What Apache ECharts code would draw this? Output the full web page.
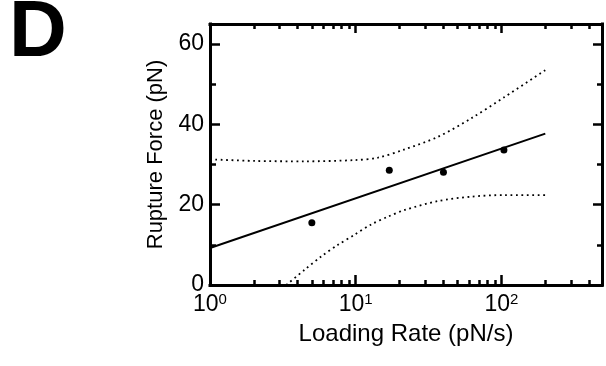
<!DOCTYPE html>
<html>
<head>
<meta charset="utf-8">
<script src="https://cdn.jsdelivr.net/npm/echarts@6/dist/echarts.min.js"></script>
<style>
  html, body { margin: 0; padding: 0; background: #fff; }
  #chart { width: 606px; height: 366px; }
</style>
</head>
<body>
<div id="chart"></div>
<script>
// ---- data ----
const pointX = [5, 17, 40, 104];
const pointY = [15.5, 28.6, 28.1, 33.6];

const fitX = [1, 200];
const fitY = [9.2, 37.7];

const upperX = [1, 2, 4.5, 9.8, 14.2, 21.7, 36.7, 62, 105, 200];
const upperY = [31.3, 30.9, 30.8, 31.1, 31.7, 33.8, 36.9, 41.5, 46.8, 53.5];

const lowerX = [3.34, 4.46, 5.8, 7.55, 9.8, 12.8, 16.6, 21.7, 36.7, 62, 105, 200];
const lowerY = [0, 3.8, 7.1, 10.0, 12.5, 15.1, 17.0, 18.7, 20.9, 22.0, 22.4, 22.4];

const xMajorTicks = [1, 10, 100];
const xMinorTicks = [2, 3, 4, 5, 6, 7, 8, 9, 20, 30, 40, 50, 60, 70, 80, 90, 200, 300, 400];
const yMajorTicks = [0, 20, 40, 60];
const yMinorTicks = [10, 30, 50];

const X_MIN = 1, X_MAX = 490;
const Y_MIN = 0, Y_MAX = 65;

const FONT = 'Liberation Sans, Arial, sans-serif';

function zip(xs, ys) { return xs.map((x, i) => [x, ys[i]]); }

const axisLineStyle = { color: '#000', width: 3, cap: 'square' };

function xAx(position, ticks, len, withLine, labels) {
  const ax = {
    type: 'log', logBase: 10, min: X_MIN, max: X_MAX, position: position,
    axisLine: { show: withLine, onZero: false, lineStyle: axisLineStyle },
    axisTick: { show: true, inside: true, length: len, customValues: ticks,
                lineStyle: { color: '#000', width: 2.5 } },
    splitLine: { show: false },
    minorTick: { show: false },
    axisLabel: { show: false }
  };
  if (labels) {
    ax.name = 'Loading Rate (pN/s)';
    ax.nameLocation = 'middle';
    ax.nameGap = 36;
    ax.nameTextStyle = { fontSize: 24, color: '#000', fontFamily: FONT };
    ax.axisLabel = {
      show: true, margin: 7, color: '#000',
      formatter: function (v) {
        const e = Math.log10(v);
        const r = Math.round(e);
        if (Math.abs(e - r) > 1e-6) return '';
        return '{b|10}{s|' + r + '}';
      },
      rich: {
        b: { fontSize: 23, fontFamily: FONT, color: '#000', lineHeight: 26 },
        s: { fontSize: 15, fontFamily: FONT, color: '#000', lineHeight: 16, padding: [0, 0, 10, 0] }
      }
    };
  }
  return ax;
}

function yAx(position, ticks, len, withLine, labels) {
  const ax = {
    type: 'value', min: Y_MIN, max: Y_MAX, interval: 20, position: position,
    axisLine: { show: withLine, onZero: false, lineStyle: axisLineStyle },
    axisTick: { show: true, inside: true, length: len, customValues: ticks,
                lineStyle: { color: '#000', width: 2.5 } },
    splitLine: { show: false },
    minorTick: { show: false },
    axisLabel: { show: false }
  };
  if (labels) {
    ax.name = 'Rupture Force (pN)';
    ax.nameLocation = 'middle';
    ax.nameGap = 43;
    ax.nameTextStyle = { fontSize: 22, color: '#000', fontFamily: FONT };
    ax.axisLabel = {
      show: true, margin: 6, fontSize: 23, color: '#000', fontFamily: FONT,
      formatter: function (v) { return v % 20 === 0 ? String(v) : ''; }
    };
  }
  return ax;
}

const chart = echarts.init(document.getElementById('chart'), null, { renderer: 'canvas' });

chart.setOption({
  animation: false,
  backgroundColor: '#fff',
  textStyle: { fontFamily: FONT },
  graphic: [{
    type: 'text',
    left: 9,
    top: -6,
    style: { text: 'D', font: 'bold 80px ' + FONT, fill: '#000' }
  }],
  grid: { left: 210, top: 24, width: 392, height: 261 },
  xAxis: [
    xAx('bottom', xMajorTicks, 10, true, true),
    xAx('bottom', xMinorTicks, 5, false, false),
    xAx('top', xMajorTicks, 9, true, false),
    xAx('top', xMinorTicks, 5, false, false)
  ],
  yAxis: [
    yAx('left', yMajorTicks, 10, true, true),
    yAx('left', yMinorTicks, 6, false, false),
    yAx('right', yMajorTicks, 9, true, false),
    yAx('right', yMinorTicks, 5, false, false)
  ],
  series: [
    {
      type: 'line',
      data: zip(upperX, upperY),
      smooth: 0.3,
      showSymbol: false,
      lineStyle: { color: '#000', width: 1.8, type: [1.8, 3.6] }
    },
    {
      type: 'line',
      data: zip(lowerX, lowerY),
      smooth: 0.3,
      showSymbol: false,
      lineStyle: { color: '#000', width: 1.8, type: [1.8, 3.6] }
    },
    {
      type: 'line',
      data: zip(fitX, fitY),
      showSymbol: false,
      lineStyle: { color: '#000', width: 2 }
    },
    {
      type: 'scatter',
      data: zip(pointX, pointY),
      symbol: 'circle',
      symbolSize: 7,
      itemStyle: { color: '#000', opacity: 1 }
    }
  ]
});
</script>
</body>
</html>
